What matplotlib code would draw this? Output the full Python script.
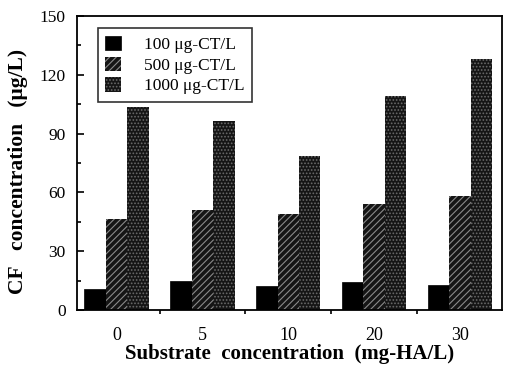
import numpy as np
import matplotlib.pyplot as plt
from matplotlib.ticker import MultipleLocator, FixedLocator

plt.rcParams['font.family'] = ['Liberation Serif', 'DejaVu Serif']
plt.rcParams['hatch.linewidth'] = 0.8

#Data
substrate = ['0', '5', '10', '20', '30']
series_names = ['100 μg-CT/L', '500 μg-CT/L', '1000 μg-CT/L']
cf_100 = [10.6, 14.9, 12.3, 14.4, 12.7]
cf_500 = [46.7, 51.1, 48.9, 54.0, 58.1]
cf_1000 = [103.6, 96.4, 78.6, 109.4, 128.3]

fig = plt.figure(figsize=(5.05, 3.66), dpi=100)
ax = fig.add_axes([0.152, 0.153, 0.842, 0.803])

x = np.arange(len(substrate))
w = 0.25
ax.bar(x - w, cf_100, w, color='black', edgecolor='black', linewidth=0.5, label=series_names[0])
ax.bar(x, cf_500, w, color='#151515', edgecolor='#8a8a8a', hatch='/////', linewidth=0, label=series_names[1])
ax.bar(x + w, cf_1000, w, color='#151515', edgecolor='#6a6a6a', hatch='.....', linewidth=0, label=series_names[2])

ax.set_xlim(-0.465, 4.49)
ax.set_ylim(0, 150)
ax.set_xticks(x)
ax.set_xticklabels(substrate)
ax.tick_params(axis='x', which='major', length=0, pad=12, labelsize=13)
ax.xaxis.set_minor_locator(FixedLocator(x[:-1] + 0.5))
ax.tick_params(axis='x', which='minor', direction='out', length=3, width=1.2)
ax.yaxis.set_major_locator(MultipleLocator(30))
ax.yaxis.set_minor_locator(MultipleLocator(15))
ax.tick_params(axis='y', which='major', direction='in', length=5, width=1.2, pad=8, labelsize=12.5)
ax.tick_params(axis='y', which='minor', direction='in', length=3, width=1.2)
for s in ax.spines.values():
    s.set_linewidth(1.3)

ax.set_xlabel('Substrate  concentration  (mg-HA/L)', fontsize=15, fontweight='bold', labelpad=0)
ax.set_ylabel('CF   concentration   (μg/L)', fontsize=15.5, fontweight='bold')
ax.yaxis.set_label_coords(-0.115, 0.47)

leg = ax.legend(loc='upper left', bbox_to_anchor=(0.049, 0.959), fontsize=12.5, frameon=True,
                fancybox=False, edgecolor='black', handlelength=0.9, handleheight=0.9,
                labelspacing=0.2, borderpad=0.45, handletextpad=1.3, borderaxespad=0)
leg.get_frame().set_linewidth(1.2)

plt.savefig('out.png', dpi=100)
plt.close()
